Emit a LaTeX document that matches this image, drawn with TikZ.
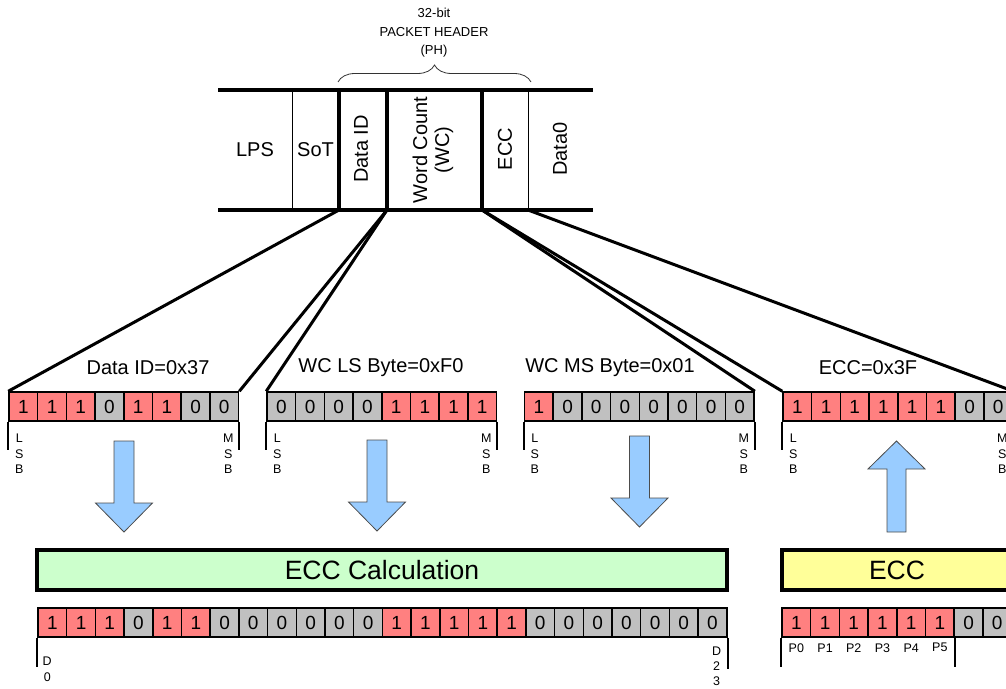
\documentclass[tikz,border=0pt]{standalone}
\usepackage{fontspec}
\setmainfont{Liberation Sans}
\usetikzlibrary{decorations.pathreplacing}
\definecolor{redc}{HTML}{FF8080}
\definecolor{grayc}{HTML}{C0C0C0}
\definecolor{bluec}{HTML}{99CCFF}
\definecolor{greenc}{HTML}{CCFFCC}
\definecolor{yellowc}{HTML}{FFFF99}
\newcommand{\myfs}[2]{\fontsize{#1}{#2}\selectfont}
\begin{document}
\begin{tikzpicture}[x=1pt,y=-1pt,
  thickline/.style={line width=3.2pt},
  thinline/.style={line width=0.9pt},
  conn/.style={line width=3pt},
  field/.style={inner sep=0pt,font=\myfs{20}{22}},
  vfield/.style={inner sep=0pt,font=\myfs{20}{22},rotate=90,align=center},
  cell/.style={draw=black,line width=1.5pt,minimum width=28.7pt,minimum height=29pt,inner sep=0pt,font=\myfs{19}{19}},
  bytelabel/.style={inner sep=0pt,font=\myfs{20}{20}},
  small/.style={inner sep=0pt,font=\myfs{12.5}{15.5},align=center},
  tick/.style={line width=2pt},
  bigarrow/.style={fill=bluec,draw=black!70,line width=0.8pt},
  calcbox/.style={line width=3.2pt,draw=black,inner sep=0pt,font=\myfs{26.5}{26.5}}
]
\useasboundingbox (0,0) rectangle (1006,688);
\clip (0,0) rectangle (1006,688);

% ---------- packet header ----------
\coordinate (tl) at (218,90);
\coordinate (tr) at (593,90);
\coordinate (bl) at (218,210);
\coordinate (br) at (593,210);
\coordinate (v1t) at (292,90);  \coordinate (v1b) at (292,210);
\coordinate (h1t) at (339,90);  \coordinate (h1) at (339,210);
\coordinate (h2t) at (387,90);  \coordinate (h2) at (387,210);
\coordinate (h3t) at (482,90);  \coordinate (h3) at (482,210);
\coordinate (h4t) at (528,90);  \coordinate (h4) at (528,210);

\draw[thickline] (tl) -- (tr);
\draw[thickline] (bl) -- (br);
\draw[thinline] (v1t) -- (v1b);
\draw[thinline] (h4t) -- (h4);
\draw[thickline] (h1t) -- (h1);
\draw[thickline] (h2t) -- (h2);
\draw[thickline] (h3t) -- (h3);

\node[field] (lps) at (255,150) {LPS};
\node[field] (sot) at (315.5,150) {SoT};
\node[vfield] (did) at (361,149) {Data ID};
\node[vfield] (wc) at (433,150) {Word Count\\(WC)};
\node[vfield] (eccf) at (505,149) {ECC};
\node[vfield] (d0f) at (560,149) {Data0};

\coordinate (brl) at (338,82);
\coordinate (brr) at (531,82);
\draw[line width=0.8pt,black!80,decorate,decoration={brace,amplitude=17pt}] (brl) -- (brr);
\node[small,font=\myfs{13}{18.5}] (ph) at (434,33) {32-bit\\PACKET HEADER\\(PH)};

% ---------- byte boxes ----------
\foreach \v [count=\i] in {1,1,1,0,1,1,0,0} {
  \ifnum\v=1 \def\cc{redc}\else\def\cc{grayc}\fi
  \node[cell,fill=\cc] (a\i) at ({9+(\i-0.5)*28.7},406.5) {\v};
}
\foreach \v [count=\i] in {0,0,0,0,1,1,1,1} {
  \ifnum\v=1 \def\cc{redc}\else\def\cc{grayc}\fi
  \node[cell,fill=\cc] (b\i) at ({267+(\i-0.5)*28.7},406.5) {\v};
}
\foreach \v [count=\i] in {1,0,0,0,0,0,0,0} {
  \ifnum\v=1 \def\cc{redc}\else\def\cc{grayc}\fi
  \node[cell,fill=\cc] (c\i) at ({524.5+(\i-0.5)*28.7},406.5) {\v};
}
\foreach \v [count=\i] in {1,1,1,1,1,1,0,0} {
  \ifnum\v=1 \def\cc{redc}\else\def\cc{grayc}\fi
  \node[cell,fill=\cc] (e\i) at ({783+(\i-0.5)*28.7},406.5) {\v};
}

\node[bytelabel] (la) at (148,368) {Data ID=0x37};
\node[bytelabel] (lb) at (381,368) {WC LS Byte=0xF0};
\node[bytelabel] (lc) at (610,368) {WC MS Byte=0x01};
\node[bytelabel] (le) at (868,368) {ECC=0x3F};

% LSB / MSB markers
\foreach \n/\m in {a1/a8,b1/b8,c1/c8,e1/e8} {
  \draw[tick] (\n.south west) -- ++(0,28);
  \draw[tick] (\m.south east) -- ++(0,28);
  \node[small] at ([xshift=11pt,yshift=-32pt]\n.south west) {L\\S\\B};
  \node[small] at ([xshift=-11pt,yshift=-32pt]\m.south east) {M\\S\\B};
}

% connectors
\draw[conn] (h1) -- (a1.north west);
\draw[conn] (h2) -- (a8.north east);
\draw[conn] (h2) -- (b1.north west);
\draw[conn] (h3) -- (c8.north east);
\draw[conn] (h3) -- (e1.north west);
\draw[conn] (h4) -- (e8.north east);

% ---------- blue arrows ----------
\draw[bigarrow] (114,441) -- (134,441) -- (134,503) -- (152.5,503) -- (124,532) -- (95.5,503) -- (114,503) -- cycle;
\draw[bigarrow] (367,440) -- (387,440) -- (387,502) -- (405.5,502) -- (377,531) -- (348.5,502) -- (367,502) -- cycle;
\draw[bigarrow] (629.5,436) -- (649.5,436) -- (649.5,498) -- (668,498) -- (639.5,527) -- (611,498) -- (629.5,498) -- cycle;
\draw[bigarrow] (887,532) -- (906,532) -- (906,469) -- (925,469) -- (896.5,441) -- (868,469) -- (887,469) -- cycle;

% ---------- calculation boxes ----------
\node[calcbox,fill=greenc,minimum width=690pt,minimum height=40pt] (calc) at (382,570) {ECC Calculation};
\node[calcbox,fill=yellowc,minimum width=230pt,minimum height=40pt] (eccb) at (897,570) {ECC};

% ---------- 24-bit data row ----------
\foreach \v [count=\i] in {1,1,1,0,1,1,0,0,0,0,0,0,1,1,1,1,1,0,0,0,0,0,0,0} {
  \ifnum\v=1 \def\cc{redc}\else\def\cc{grayc}\fi
  \node[cell,fill=\cc] (d\i) at ({38+(\i-0.5)*28.7},622.5) {\v};
}
\draw[tick] (d1.south west) -- ++(0,29);
\draw[tick] (d24.south east) -- ++(0,31);
\node[small,font=\myfs{12.5}{16}] (dz) at ([xshift=10pt,yshift=-32pt]d1.south west) {D\\0};
\node[small,font=\myfs{12.5}{15}] (dt) at ([xshift=-11pt,yshift=-29pt]d24.south east) {D\\2\\3};

% ---------- ECC result row ----------
\foreach \v [count=\i] in {1,1,1,1,1,1,0,0} {
  \ifnum\v=1 \def\cc{redc}\else\def\cc{grayc}\fi
  \node[cell,fill=\cc] (p\i) at ({782+(\i-0.5)*28.7},622.5) {\v};
}
\foreach \i [evaluate=\i as \j using int(\i-1)] in {1,...,6} {
  \node[small,font=\myfs{12.5}{12.5}] (pl\i) at ([yshift=-10pt]p\i.south) {P\j};
}
\draw[tick] (p1.south west) -- ++(0,29);
\draw[tick] (p6.south east) -- ++(0,29);
\end{tikzpicture}
\end{document}
